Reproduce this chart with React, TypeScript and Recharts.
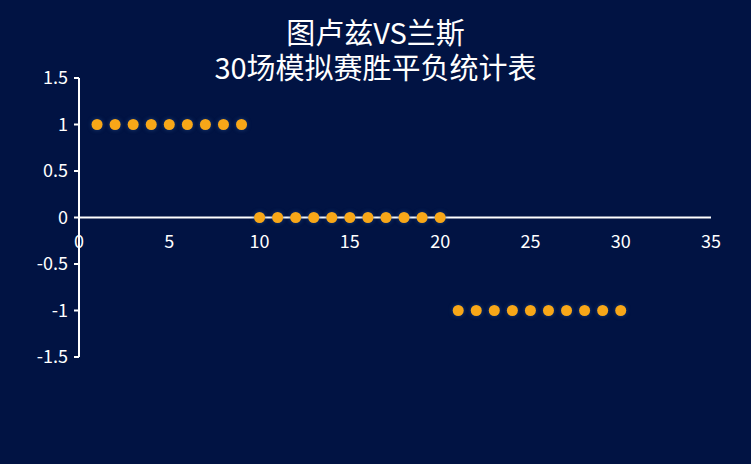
import React from "react";
import {
  ScatterChart,
  Scatter,
  XAxis,
  YAxis,
  ReferenceLine,
} from "recharts";

const WIDTH = 751;
const HEIGHT = 464;
const BG = "#011343";
const DOT = "#F8A718";
const FONT = "'Noto Sans CJK SC', 'Noto Sans', sans-serif";

// match index vs result (1 = win, 0 = draw, -1 = loss)
const matches = [
  1, 2, 3, 4, 5, 6, 7, 8, 9, 10, 11, 12, 13, 14, 15, 16, 17, 18, 19, 20, 21,
  22, 23, 24, 25, 26, 27, 28, 29, 30,
];
const results = [
  1, 1, 1, 1, 1, 1, 1, 1, 1, 0, 0, 0, 0, 0, 0, 0, 0, 0, 0, 0, -1, -1, -1, -1,
  -1, -1, -1, -1, -1, -1,
];
const xTicks = [0, 5, 10, 15, 20, 25, 30, 35];
const yTicks = [-1.5, -1, -0.5, 0, 0.5, 1, 1.5];
const titleLines = ["图卢兹VS兰斯", "30场模拟赛胜平负统计表"];

const data = matches.map((m, i) => ({ x: m, y: results[i] }));

const MARGIN = { top: 78, right: 40, bottom: 87, left: 0 };
const PLOT_TOP = MARGIN.top;
const PLOT_BOTTOM = HEIGHT - MARGIN.bottom - 20;
const ZERO_Y = (PLOT_TOP + PLOT_BOTTOM) / 2;

const XTick = (props: any) => {
  const { x, payload } = props;
  return (
    <text
      x={x}
      y={ZERO_Y + 30}
      fill="#FFFFFF"
      fontSize={18}
      fontFamily={FONT}
      textAnchor="middle"
    >
      {payload.value}
    </text>
  );
};

const YTick = (props: any) => {
  const { x, y, payload } = props;
  return (
    <text
      x={x}
      y={y + 6}
      fill="#FFFFFF"
      fontSize={18}
      fontFamily={FONT}
      textAnchor="end"
    >
      {payload.value}
    </text>
  );
};

const Dot = (props: any) => {
  const { cx, cy } = props;
  return (
    <circle
      cx={cx}
      cy={cy}
      r={5.5}
      fill={DOT}
      style={{ filter: "drop-shadow(0 0 2px rgba(40,80,140,0.7))" }}
    />
  );
};

export default function App() {
  return (
    <div
      style={{
        position: "absolute",
        top: 0,
        left: 0,
        width: WIDTH,
        height: HEIGHT,
        background: BG,
      }}
    >
      {titleLines.map((t, i) => (
        <div
          key={t}
          style={{
            position: "absolute",
            top: 14 + i * 35,
            left: 0,
            width: WIDTH,
            height: 35,
            textAlign: "center",
            color: "#FFFFFF",
            fontFamily: FONT,
            fontSize: 29,
            lineHeight: "35px",
          }}
        >
          {t}
        </div>
      ))}
      <ScatterChart width={WIDTH} height={HEIGHT} margin={MARGIN}>
        <XAxis
          type="number"
          dataKey="x"
          domain={[0, 35]}
          ticks={xTicks}
          axisLine={false}
          tickLine={false}
          tick={<XTick />}
          height={20}
          interval={0}
        />
        <YAxis
          type="number"
          dataKey="y"
          domain={[-1.5, 1.5]}
          ticks={yTicks}
          width={79}
          axisLine={{ stroke: "#FFFFFF", strokeWidth: 2 }}
          tickLine={{ stroke: "#FFFFFF", strokeWidth: 2 }}
          tickSize={5}
          tickMargin={6}
          tick={<YTick />}
          interval={0}
        />
        <ReferenceLine y={0} stroke="#FFFFFF" strokeWidth={2} />
        <Scatter data={data} shape={<Dot />} isAnimationActive={false} />
      </ScatterChart>
    </div>
  );
}
